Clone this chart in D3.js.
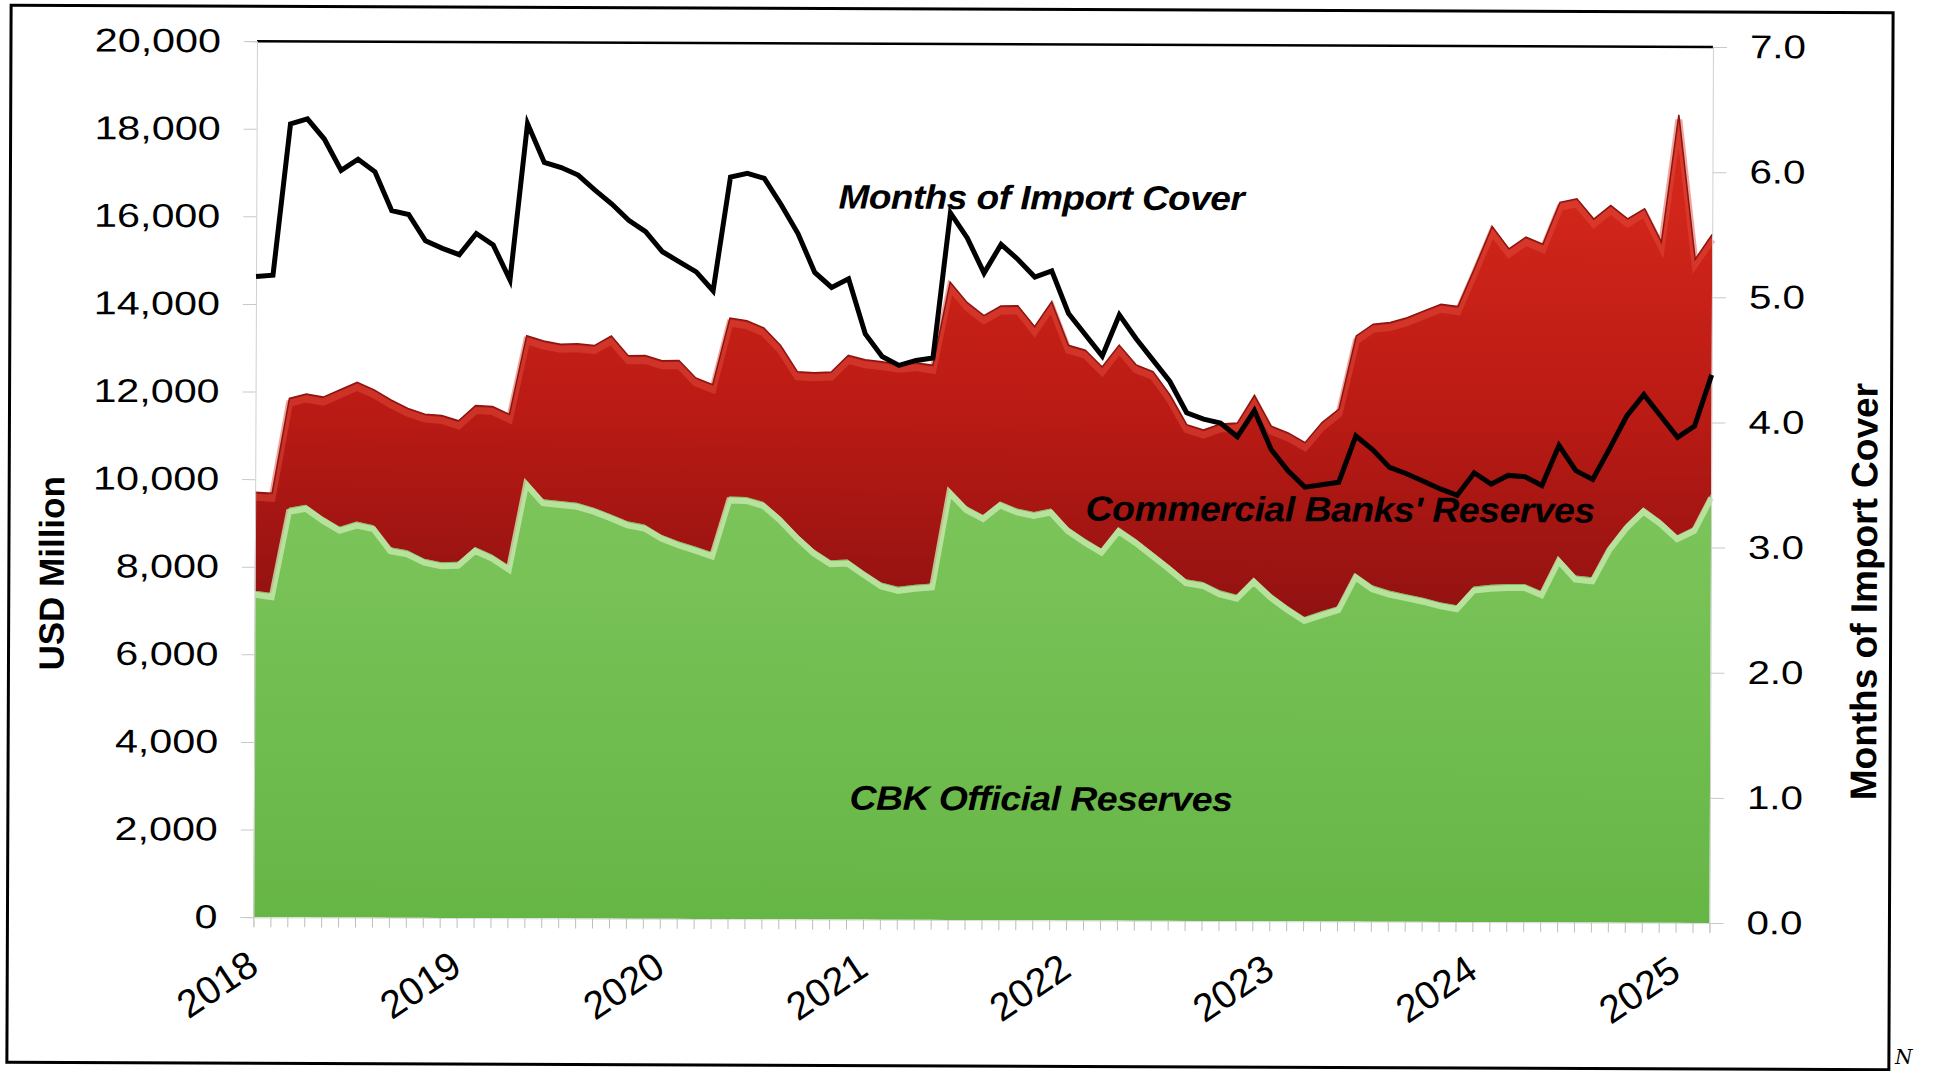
<!DOCTYPE html>
<html>
<head>
<meta charset="utf-8">
<script src="https://cdn.jsdelivr.net/npm/d3@7"></script>
<style>
  body { margin: 0; background: #fff; }
  svg { display: block; }
  text { font-family: "Liberation Sans", Arial, sans-serif; fill: #000; }
</style>
</head>
<body>
<div id="chart"></div>
<script>
// monthly figures, Jan 2018 .. Mar 2025 (USD million / months)
const cbkOfficial = [
    7450, 7400, 9350, 9420, 9150, 8920, 9040, 8960, 8460, 8390, 8200, 8120,
    8130, 8470, 8300, 8050, 10000, 9570, 9530, 9490, 9380, 9230, 9070, 9000,
    8770, 8620, 8500, 8370, 9650, 9640, 9530, 9200, 8800, 8450, 8200, 8220,
    7950, 7700, 7600, 7650, 7680, 9850, 9450, 9250, 9560, 9400, 9320, 9400,
    8980, 8720, 8490, 8980, 8720, 8420, 8120, 7800, 7740, 7550, 7450, 7840,
    7480, 7200, 6950, 7080, 7200, 7950, 7680, 7560, 7480, 7400, 7300, 7230,
    7660, 7700, 7720, 7720, 7560, 8340, 7920, 7880, 8600, 9100, 9480, 9200,
    8850, 9040, 9800
];
const commercialBanks = [
    2250, 2280, 2500, 2530, 2730, 3130, 3180, 3090, 3360, 3240, 3300, 3350,
    3220, 3230, 3380, 3450, 3300, 3610, 3580, 3630, 3700, 4070, 3780, 3860,
    3970, 4130, 3850, 3830, 4070, 4020, 3970, 3900, 3700, 4030, 4300, 4660,
    4830, 5040, 5080, 5070, 4980, 4710, 4650, 4550, 4460, 4630, 4230, 4720,
    4150, 4300, 4150, 4160, 3970, 4120, 3890, 3530, 3470, 3800, 3920, 4160,
    3820, 3950, 3980, 4310, 4500, 5420, 5960, 6120, 6310, 6550, 6800, 6820,
    7290, 8180, 7650, 7920, 7920, 8100, 8600, 8180, 7770, 6970, 6820, 6340,
    9600, 6110, 5920
];
const importCover = [
    5.12, 5.13, 6.34, 6.38, 6.22, 5.97, 6.06, 5.96, 5.65, 5.62, 5.41, 5.35,
    5.30, 5.47, 5.38, 5.10, 6.35, 6.04, 6.00, 5.94, 5.82, 5.71, 5.58, 5.49,
    5.33, 5.25, 5.17, 5.02, 5.93, 5.96, 5.92, 5.71, 5.48, 5.17, 5.05, 5.12,
    4.68, 4.50, 4.43, 4.47, 4.49, 5.65, 5.45, 5.17, 5.40, 5.28, 5.14, 5.19,
    4.85, 4.68, 4.51, 4.84, 4.65, 4.48, 4.31, 4.06, 4.01, 3.98, 3.87, 4.08,
    3.77, 3.60, 3.47, 3.49, 3.51, 3.88, 3.77, 3.63, 3.58, 3.52, 3.46, 3.41,
    3.59, 3.50, 3.57, 3.56, 3.49, 3.81, 3.61, 3.54, 3.79, 4.05, 4.22, 4.05,
    3.88, 3.97, 4.38
];
const yearLabels = ["2018", "2019", "2020", "2021", "2022", "2023", "2024", "2025"];
const leftTicks = [0, 2000, 4000, 6000, 8000, 10000, 12000, 14000, 16000, 18000, 20000];
const rightTicks = [0, 1, 2, 3, 4, 5, 6, 7];

const months = d3.timeMonth.range(new Date(2018, 0, 1), new Date(2018, cbkOfficial.length, 1));

const width = 1933, height = 1071;
const plot = { left: 255, right: 1711, top: 44, bottom: 920 };

const svg = d3.select("#chart").append("svg")
    .attr("width", width)
    .attr("height", height);

// the scanned chart sits a little crooked
const g = svg.append("g")
    .attr("transform", "rotate(0.23," + width / 2 + "," + height / 2 + ")");

const x = d3.scalePoint().domain(months).range([plot.left, plot.right]);
const y = d3.scaleLinear().domain([0, 20000]).range([plot.bottom, plot.top]);
const yRight = d3.scaleLinear().domain([0, 7]).range([plot.bottom, plot.top]);

const defs = svg.append("defs");
const redGrad = defs.append("linearGradient").attr("id", "redGrad")
    .attr("gradientUnits", "userSpaceOnUse")
    .attr("x1", 0).attr("y1", 200).attr("x2", 0).attr("y2", 640);
redGrad.append("stop").attr("offset", 0).attr("stop-color", "#d2261a");
redGrad.append("stop").attr("offset", 0.5).attr("stop-color", "#b91a14");
redGrad.append("stop").attr("offset", 1).attr("stop-color", "#8c1111");

const greenGrad = defs.append("linearGradient").attr("id", "greenGrad")
    .attr("gradientUnits", "userSpaceOnUse")
    .attr("x1", 0).attr("y1", 480).attr("x2", 0).attr("y2", 920);
greenGrad.append("stop").attr("offset", 0).attr("stop-color", "#7dc55b");
greenGrad.append("stop").attr("offset", 1).attr("stop-color", "#66b646");

// frame
g.append("rect")
    .attr("x", 9).attr("y", 9)
    .attr("width", 1882).attr("height", 1057)
    .attr("fill", "none")
    .attr("stroke", "#000")
    .attr("stroke-width", 3);

// stacked areas
const rows = months.map((m, i) => ({ month: m, cbk: cbkOfficial[i], banks: commercialBanks[i] }));
const series = d3.stack().keys(["cbk", "banks"])(rows);

const area = d3.area()
    .x(d => x(d.data.month))
    .y0(d => y(d[0]))
    .y1(d => y(d[1]));
const topEdge = d3.line()
    .x(d => x(d.data.month))
    .y(d => y(d[1]));

g.append("path").datum(series[0])
    .attr("d", area)
    .attr("fill", "url(#greenGrad)");
g.append("path").datum(series[1])
    .attr("d", area)
    .attr("fill", "url(#redGrad)");

// bevel highlights along the tops
g.append("path").datum(series[1])
    .attr("d", topEdge)
    .attr("transform", "translate(0,5)")
    .attr("fill", "none")
    .attr("stroke", "#e2493a")
    .attr("stroke-opacity", 0.5)
    .attr("stroke-width", 7);
g.append("path").datum(series[1])
    .attr("d", topEdge)
    .attr("fill", "none")
    .attr("stroke", "#8a1512")
    .attr("stroke-width", 1.5);
g.append("path").datum(series[0])
    .attr("d", topEdge)
    .attr("transform", "translate(0,4)")
    .attr("fill", "none")
    .attr("stroke", "#c6eaae")
    .attr("stroke-opacity", 0.8)
    .attr("stroke-width", 6);

// top border of the plot
g.append("line")
    .attr("x1", plot.left).attr("x2", plot.right)
    .attr("y1", plot.top).attr("y2", plot.top)
    .attr("stroke", "#000")
    .attr("stroke-width", 2.5);

// axes
const leftAxis = g.append("g")
    .attr("transform", "translate(" + plot.left + ",0)")
    .call(d3.axisLeft(y).tickValues(leftTicks).tickFormat(d3.format(",")).tickSize(13));
leftAxis.select(".domain").attr("stroke", "#d0d0d0");
leftAxis.selectAll(".tick line").attr("stroke", "#c8c8c8");
leftAxis.selectAll(".tick text")
    .attr("x", -36 / 1.25)
    .attr("transform", "scale(1.25,1)")
    .style("font-size", "33px");

const rightAxis = g.append("g")
    .attr("transform", "translate(" + plot.right + ",0)")
    .call(d3.axisRight(yRight).tickValues(rightTicks).tickFormat(d3.format(".1f")).tickSize(14));
rightAxis.select(".domain").attr("stroke", "#d0d0d0");
rightAxis.selectAll(".tick line").attr("stroke", "#c8c8c8");
rightAxis.selectAll(".tick text")
    .attr("x", 37 / 1.22)
    .attr("transform", "scale(1.22,1)")
    .style("font-size", "33px");

const bottomAxis = g.append("g")
    .attr("transform", "translate(0," + plot.bottom + ")")
    .call(d3.axisBottom(x).tickSize(10)
        .tickFormat((d, i) => i % 12 === 0 ? yearLabels[i / 12] : ""));
bottomAxis.select(".domain").attr("stroke", "#dcdcdc");
bottomAxis.selectAll(".tick line").attr("stroke", "#bdbdbd");
bottomAxis.selectAll(".tick text")
    .attr("x", null).attr("y", null).attr("dy", null)
    .attr("text-anchor", "end")
    .attr("transform", "translate(7,54) rotate(-34)")
    .style("font-size", "39px");
g.selectAll(".tick text").attr("fill", "#000");

// import cover line
const coverLine = d3.line()
    .x((d, i) => x(months[i]))
    .y(d => yRight(d));
g.append("path").datum(importCover)
    .attr("d", coverLine)
    .attr("fill", "none")
    .attr("stroke", "#000")
    .attr("stroke-width", 5)
    .attr("stroke-linejoin", "miter");

// series labels
const notes = [
    { text: "Months of Import Cover", x: 1040, y: 209, size: 34, sx: 1.09 },
    { text: "Commercial Banks' Reserves", x: 1340, y: 520, size: 35, sx: 1.07 },
    { text: "CBK Official Reserves", x: 1042, y: 810, size: 34, sx: 1.1 }
];
g.selectAll("text.note").data(notes).enter().append("text")
    .attr("class", "note")
    .attr("transform", d => "translate(" + d.x + "," + d.y + ") scale(" + d.sx + ",1)")
    .attr("text-anchor", "middle")
    .style("font-size", d => d.size + "px")
    .style("font-weight", "bold")
    .style("font-style", "italic")
    .style("letter-spacing", "-0.5px")
    .text(d => d.text);

// axis titles
g.append("text")
    .attr("transform", "translate(64,577) rotate(-90)")
    .attr("text-anchor", "middle")
    .style("font-size", "35px")
    .style("font-weight", "bold")
    .text("USD Million");
g.append("text")
    .attr("transform", "translate(1877,588) rotate(-90)")
    .attr("text-anchor", "middle")
    .style("font-size", "37px")
    .style("font-weight", "bold")
    .text("Months of Import Cover");

// stray glyph at the page corner
svg.append("text")
    .attr("x", 1895).attr("y", 1064)
    .style("font-family", "'DejaVu Serif', serif")
    .style("font-style", "italic")
    .style("font-size", "20px")
    .attr("fill", "#333")
    .text("N");
</script>
</body>
</html>
